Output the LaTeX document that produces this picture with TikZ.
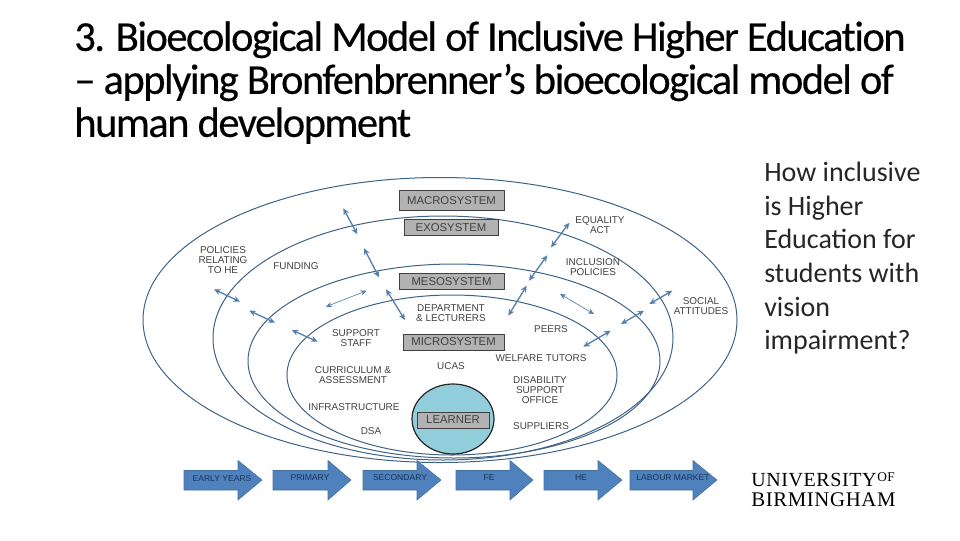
\documentclass[tikz,border=0pt]{standalone}
\usepackage{fontspec}
\setmainfont{Carlito}
\newfontfamily\titlefont[LetterSpace=-3.8,FakeBold=0.25,Ligatures=NoCommon]{Carlito}
\newfontfamily\diagfont{Liberation Sans}
\newfontfamily\logofont[LetterSpace=3]{Liberation Serif}
\usetikzlibrary{arrows.meta}
\definecolor{ring}{HTML}{3F6288}
\definecolor{linkblue}{HTML}{5580AE}
\definecolor{blockblue}{HTML}{4F81BD}
\definecolor{blockedge}{HTML}{41719C}
\definecolor{boxgrey}{HTML}{B2B2B2}
\definecolor{labelgrey}{HTML}{404040}
\definecolor{blocktext}{HTML}{1C3557}
\definecolor{learnerfill}{HTML}{92CDDC}
\tikzset{
  ringline/.style={draw=ring,line width=0.75pt},
  link/.style={linkblue,line width=1pt,{Stealth[length=5pt,width=4.5pt]}-{Stealth[length=5pt,width=4.5pt]}},
  thinlink/.style={linkblue,line width=0.5pt,{Stealth[length=4.5pt,width=4pt]}-{Stealth[length=4.5pt,width=4pt]}},
  label/.style={font=\diagfont\fontsize{7.45}{7.5}\selectfont,text=labelgrey,align=center,inner sep=0pt},
  sysbox/.style={draw=labelgrey,line width=0.6pt,fill=boxgrey,font=\diagfont\fontsize{8.5}{9}\selectfont,text=labelgrey,inner sep=0pt},
  blocklabel/.style={font=\diagfont\fontsize{6.4}{7}\selectfont,text=blocktext,inner sep=0pt},
  block/.style={fill=blockblue,draw=blockedge,line width=0.4pt},
  titletext/.style={font=\titlefont\fontsize{32}{32.25}\selectfont,text=black,align=left,anchor=north west,inner sep=0pt},
  sidetext/.style={font=\fontsize{21}{25.2}\selectfont,text=black!85,align=left,anchor=north west,inner sep=0pt},
  logotext/.style={font=\logofont\fontsize{15.6}{15.6}\selectfont,text=black,anchor=west,inner sep=0pt},
}
\newcommand{\blockarrow}[3]{% tail x, head base x, tip x
  \path[block] (#1,470.5) -- (#2,470.5) -- (#2,460.5) -- (#3,480) -- (#2,500) -- (#2,490) -- (#1,490) -- cycle;}
\newcommand{\duallink}[4]{% name, start, end, style
  \coordinate (#1s) at (#2); \coordinate (#1e) at (#3);
  \draw[#4] (#1s) -- (#1e);}
\begin{document}
\begin{tikzpicture}[x=0.75pt,y=-0.75pt]
\useasboundingbox (0,0) rectangle (960,540);
% rings
\draw[ringline] (440,320) ellipse [x radius=297,y radius=142.5];
\draw[ringline] (443,338) ellipse [x radius=230,y radius=122];
\draw[ringline] (454,361) ellipse [x radius=206,y radius=97];
\draw[ringline] (452,375) ellipse [x radius=165,y radius=80];
% learner
\draw[fill=learnerfill,draw=black!85,line width=0.9pt] (453,419) ellipse [x radius=41,y radius=35];
% system boxes
\node[sysbox,minimum width=78.75pt,minimum height=15pt] (macro) at (451.5,200.5) {MACROSYSTEM};
\node[sysbox,minimum width=70.5pt,minimum height=11.5pt] (exo) at (451,227.5) {EXOSYSTEM};
\node[sysbox,minimum width=78.75pt,minimum height=11.5pt] (meso) at (451.5,281.5) {MESOSYSTEM};
\node[sysbox,minimum width=75.75pt,minimum height=12pt] (micro) at (453.5,342) {MICROSYSTEM};
\node[sysbox,minimum width=54pt,minimum height=12pt] (learner) at (453,420) {LEARNER};
% two-headed arrows
\duallink{a1}{343.3,208.3}{357.3,234.3}{link}
\duallink{a2}{364,248.3}{379,277.3}{link}
\duallink{a3}{386,289.3}{405,320}{link}
\duallink{a4}{214,289.3}{240,301.7}{link}
\duallink{a5}{249.3,310.7}{275,322.7}{link}
\duallink{a6}{291.7,330}{317.7,341.7}{link}
\duallink{a7}{366.7,290.7}{326,306.7}{thinlink}
\duallink{b1}{569.3,222.7}{551,247.3}{link}
\duallink{b2}{547.3,255.3}{529,280.7}{link}
\duallink{b3}{526.7,285.7}{508.3,315.7}{link}
\duallink{b4}{560,294}{594,314}{thinlink}
\duallink{b5}{672.3,290.7}{649.3,304}{link}
\duallink{b6}{644,310.7}{621,324}{link}
\duallink{b7}{610.7,330.7}{583.3,346.7}{link}
% labels
\node[label] (policies) at (223,260) {POLICIES\\RELATING\\TO HE};
\node[label] (funding) at (296,266) {FUNDING};
\node[label] (support) at (356,338) {SUPPORT\\STAFF};
\node[label] (dept) at (451,313.5) {DEPARTMENT\\\& LECTURERS};
\node[label] (equality) at (600,225.5) {EQUALITY\\ACT};
\node[label] (inclusion) at (593,267) {INCLUSION\\POLICIES};
\node[label] (social) at (701,306) {SOCIAL\\ATTITUDES};
\node[label] (peers) at (551,329) {PEERS};
\node[label] (welfare) at (541,358) {WELFARE TUTORS};
\node[label] (ucas) at (451,366) {UCAS};
\node[label] (curric) at (353,375) {CURRICULUM \&\\ASSESSMENT};
\node[label] (disab) at (540,390) {DISABILITY\\SUPPORT\\OFFICE};
\node[label] (infra) at (354,407) {INFRASTRUCTURE};
\node[label] (dsa) at (371,431) {DSA};
\node[label] (suppliers) at (541,426) {SUPPLIERS};
% block arrows
\blockarrow{184}{238}{262}
\blockarrow{273}{328}{351}
\blockarrow{363}{417}{441}
\blockarrow{456}{510}{533}
\blockarrow{544}{598}{622}
\blockarrow{630}{693}{717}
\node[blocklabel] (early) at (222,479) {EARLY YEARS};
\node[blocklabel] (primary) at (310,478) {PRIMARY};
\node[blocklabel] (secondary) at (400,478) {SECONDARY};
\node[blocklabel] (fe) at (489,478) {FE};
\node[blocklabel] (he) at (581,478) {HE};
\node[blocklabel] (labour) at (673,478) {LABOUR MARKET};
% title and side text
\node[titletext] (title) at (74,21) {3. Bioecological Model of Inclusive Higher Education\\– applying Bronfenbrenner’s bioecological model of\\human development};
\node[sidetext] (side) at (764,162) {How inclusive\\is Higher\\Education for\\students with\\vision\\impairment?};
% logo
\node[logotext,font=\logofont\fontsize{15}{15}\selectfont] (uni) at (751,480.5) {UNIVERSITY};
\node[logotext,font=\logofont\fontsize{10}{10}\selectfont] (of) at (877,477.5) {OF};
\node[logotext] (bham) at (751,500) {BIRMINGHAM};
\end{tikzpicture}
\end{document}
